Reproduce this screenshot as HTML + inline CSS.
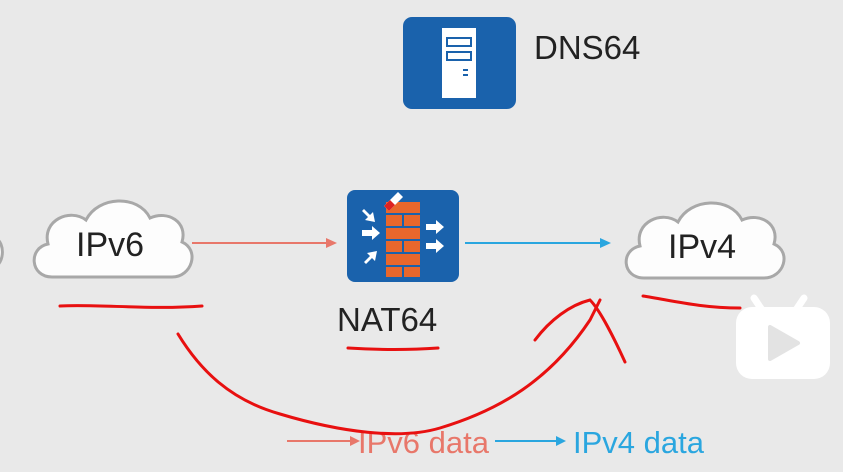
<!DOCTYPE html>
<html><head><meta charset="utf-8"><style>
html,body{margin:0;padding:0;background:#e9e9e9;}
svg{display:block}
text{font-family:"Liberation Sans",sans-serif}
</style></head><body>
<svg width="843" height="472" viewBox="0 0 843 472" xmlns="http://www.w3.org/2000/svg">
<rect width="843" height="472" fill="#e9e9e9"/>
<rect x="403" y="17" width="113" height="92" rx="9" fill="#1a62ac"/>
<rect x="442" y="28" width="34" height="70" fill="#fff"/>
<rect x="447" y="38" width="24" height="8" fill="none" stroke="#1a62ac" stroke-width="2"/>
<rect x="447" y="52" width="24" height="8" fill="none" stroke="#1a62ac" stroke-width="2"/>
<rect x="463" y="69" width="5" height="2" fill="#1a62ac"/>
<rect x="463" y="74" width="5" height="2" fill="#1a62ac"/>
<text x="534" y="59" font-size="33" fill="#222">DNS64</text>
<g fill="#fdfdfd" stroke="#a8a8a8" stroke-width="3">
<path d="M52,277 C30,277 28,248 48,244 C42,220 70,208 86,220 C98,196 138,194 150,218 C168,210 188,222 182,242 C200,250 192,277 172,277 Z"/>
<path d="M644,278 C622,278 620,250 640,246 C634,222 662,210 678,222 C690,198 730,196 742,220 C760,212 780,224 774,244 C792,252 784,278 764,278 Z"/>
<path d="M-10,268 C5,268 6,242 -5,238" />
</g>
<text x="76" y="256" font-size="34" fill="#222">IPv6</text>
<text x="668" y="258" font-size="34" fill="#222">IPv4</text>
<rect x="347" y="190" width="112" height="92" rx="8" fill="#1a62ac"/>
<g fill="#e8672c">
<rect x="386" y="202" width="34" height="11"/>
<rect x="386" y="215" width="16" height="11"/><rect x="404" y="215" width="16" height="11"/>
<rect x="386" y="228" width="34" height="11"/>
<rect x="386" y="241" width="16" height="11"/><rect x="404" y="241" width="16" height="11"/>
<rect x="386" y="254" width="34" height="11"/>
<rect x="386" y="267" width="16" height="10"/><rect x="404" y="267" width="16" height="10"/>
</g>
<g fill="#fff">
<path d="M362,230 l10,0 l0,-4 l8,7 l-8,7 l0,-4 l-10,0z"/>
<path d="M364,209 l6,6 l3,-3 l2,10 l-10,-2 l3,-3 l-6,-6z"/>
<path d="M364,262 l6,-6 l-3,-3 l10,-2 l-2,10 l-3,-3 l-6,6z"/>
<path d="M426,224 l10,0 l0,-4 l8,7 l-8,7 l0,-4 l-10,0z"/>
<path d="M426,243 l10,0 l0,-4 l8,7 l-8,7 l0,-4 l-10,0z"/>
<path d="M384,206 l14,-14 l5,5 l-14,14z"/>
</g>
<path d="M384,206 l6,-6 l5,5 l-6,6z" fill="#d22"/>
<text x="337" y="331" font-size="33" fill="#222">NAT64</text>
<line x1="192" y1="243" x2="328" y2="243" stroke="#e8776a" stroke-width="2"/>
<path d="M337,243 l-11,-5 l0,10z" fill="#e8776a"/>
<line x1="465" y1="243" x2="602" y2="243" stroke="#2aa6df" stroke-width="2"/>
<path d="M611,243 l-11,-5 l0,10z" fill="#2aa6df"/>
<line x1="287" y1="441" x2="352" y2="441" stroke="#e8776a" stroke-width="2"/>
<path d="M360,441 l-10,-5 l0,10z" fill="#e8776a"/>
<text x="358" y="453" font-size="31" fill="#e8776a">IPv6 data</text>
<line x1="495" y1="441" x2="557" y2="441" stroke="#2aa6df" stroke-width="2"/>
<path d="M566,441 l-10,-5 l0,10z" fill="#2aa6df"/>
<text x="573" y="453" font-size="31" fill="#2aa6df">IPv4 data</text>
<g fill="none" stroke="#e81010" stroke-width="3" stroke-linecap="round">
<path d="M60,306 C100,304 150,310 202,306"/>
<path d="M643,296 C670,300 700,308 740,308"/>
<path d="M348,348 C380,350 410,350 438,348"/>
<path d="M178,334 C200,370 230,400 280,414 C340,432 400,440 440,428 C500,410 550,380 590,320 L600,300"/>
<path d="M535,340 C550,320 570,305 590,300 C600,310 615,340 625,362"/>
</g>
<g fill="#fff">
<rect x="736" y="307" width="94" height="72" rx="16"/>
<path d="M762,310 l-8,-12 M796,310 l8,-12" stroke="#fff" stroke-width="7" stroke-linecap="round"/>
</g>
<path d="M770,327 l0,32 l28,-16z" fill="#e3e3e3" stroke="#e3e3e3" stroke-width="4" stroke-linejoin="round"/>
</svg>
</body></html>
